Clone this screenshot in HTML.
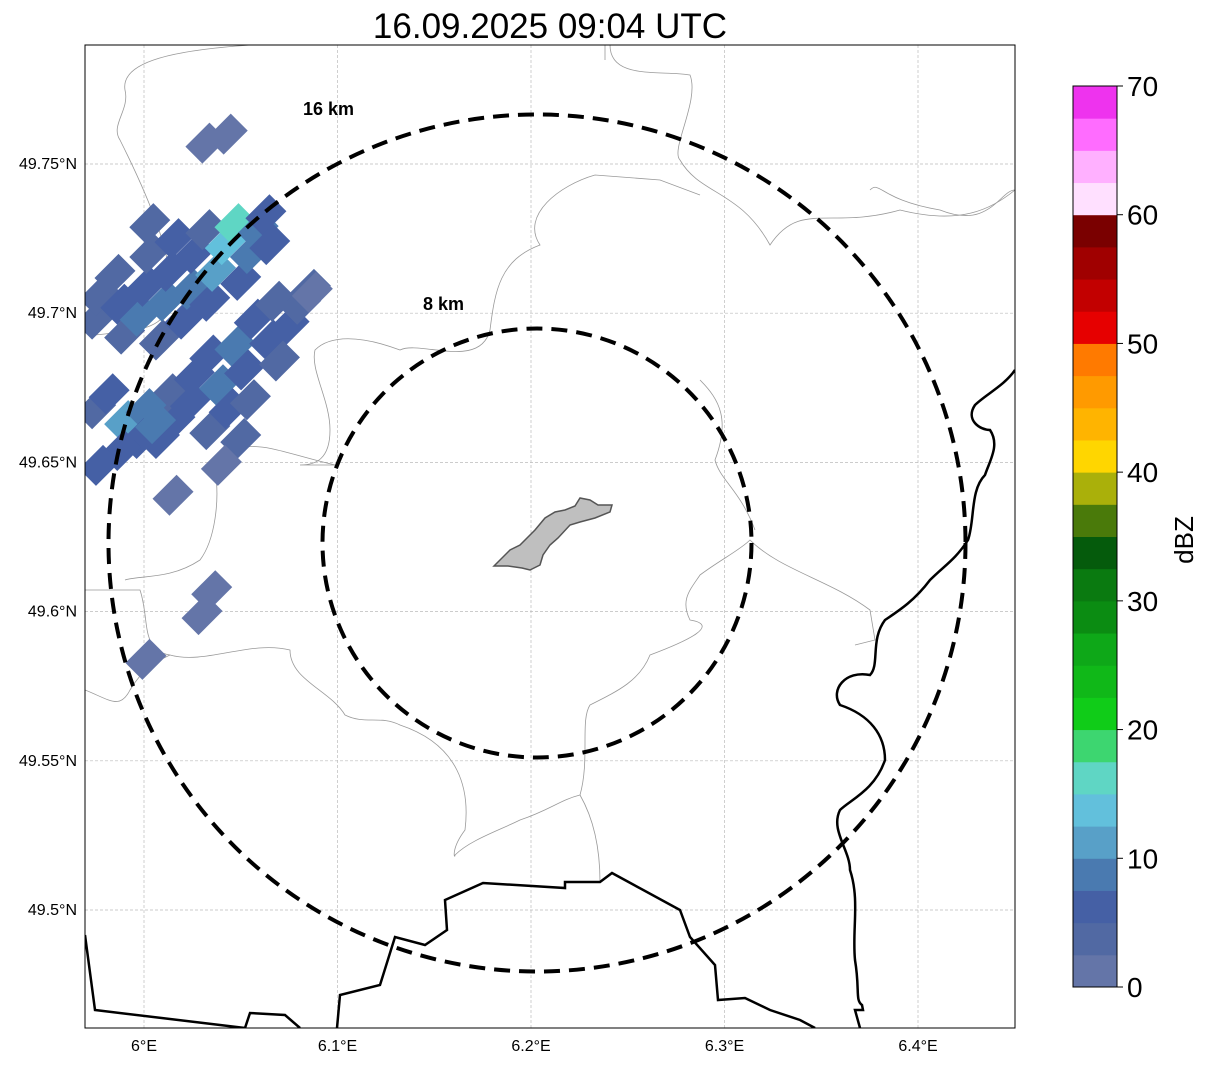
<!DOCTYPE html>
<html><head><meta charset="utf-8"><style>
body{margin:0;background:#fff;font-family:"Liberation Sans","DejaVu Sans",sans-serif}
svg text{font-family:"Liberation Sans","DejaVu Sans",sans-serif}
</style></head><body>
<svg id="chart" width="1207" height="1064" viewBox="0 0 1207 1064" xmlns="http://www.w3.org/2000/svg">
<text x="550" y="38" font-size="35" text-anchor="middle">16.09.2025 09:04 UTC</text>
<defs><clipPath id="mapclip"><rect x="85" y="45" width="930" height="983"/></clipPath></defs>
<g id="grid"></g>
<g clip-path="url(#mapclip)">
<g fill="none" stroke="#999" stroke-width="0.8">
<path d="M250,45 C180,50 120,60 125,90 C130,110 110,125 120,140 C150,200 175,260 170,300 C165,330 140,330 95,335"/>
<path d="M605,45 L605,60 M610,45 C610,80 660,70 690,75 C700,100 670,150 680,160 C700,195 740,190 770,245 C800,200 830,230 900,210 C960,225 990,210 1015,190"/>
<path d="M1015,190 C1000,190 990,230 940,210 C880,200 880,180 870,190"/>
<path d="M595,175 L660,180 L700,195 M595,175 C560,185 520,215 540,245 C500,260 495,290 490,330 C480,370 420,340 400,350 C360,335 330,335 315,350 C310,370 330,400 330,430 C330,460 315,465 300,465 L335,465"/>
<path d="M335,465 C270,450 240,430 215,470 C220,500 215,540 200,560 C170,580 140,575 125,580"/>
<path d="M85,590 L140,590 C150,620 140,650 170,655 C205,665 250,640 290,650 C290,680 330,690 345,715 C365,725 380,715 400,725 C460,745 470,790 465,830 C450,850 455,860 455,855 C470,840 500,830 520,820 C550,810 560,800 580,795 C590,760 580,720 590,705 C620,690 640,680 650,655 C690,640 720,625 690,620 C680,600 690,590 700,575 C720,560 740,550 750,540 C780,570 830,580 870,610 L875,640 L855,645"/>
<path d="M580,795 C600,830 600,870 600,882"/>
<path d="M85,690 C110,700 120,710 130,690 C145,665 160,660 170,655"/>
<path d="M700,380 C720,400 730,420 715,460 C720,480 740,490 755,530"/>
</g>
<g id="cells"></g>
<g fill="none" stroke="#000" stroke-width="2.5">
<path d="M85,935 L95,1010 L245,1028 M245,1028 L250,1013 L285,1015 L300,1028 M337,1028 L340,995 L380,985 L395,937 L425,945 L447,930 L445,900 L483,883 L565,888 L565,882 L600,882 L612,873 L680,910 L690,937 L715,965 L718,1000 L745,998 L770,1010 L800,1020 L815,1028"/>
<path d="M1015,370 C1005,385 985,395 975,405 C965,420 980,430 990,430 C1000,445 990,460 985,475 C970,490 975,520 968,540 C955,560 945,565 930,580 C915,600 900,610 885,620 C870,640 880,665 870,675 C845,670 830,690 840,705 C870,715 885,735 885,760 C875,790 850,800 840,810 C830,830 850,850 850,870 C860,900 852,930 855,960 C860,990 855,1000 862,1005 L863,1010 L855,1010 L860,1028"/>
</g>
<path d="M494,566 L510,550 L520,545 L535,530 L545,518 L555,512 L565,510 L575,506 L580,498 L590,500 L598,505 L612,505 L610,512 L595,518 L580,522 L570,525 L558,538 L550,545 L543,555 L540,565 L530,570 L522,568 L508,566 Z" fill="#bfbfbf" stroke="#555" stroke-width="1.5"/>
<ellipse cx="537" cy="543" rx="428.5" ry="428.5" fill="none" stroke="#000" stroke-width="4" stroke-dasharray="16,9"/>
<ellipse cx="537" cy="543" rx="214.5" ry="214.5" fill="none" stroke="#000" stroke-width="4" stroke-dasharray="16,9"/>
</g>
<text x="303" y="115" font-size="18" font-weight="bold">16 km</text>
<text x="423" y="310" font-size="18" font-weight="bold">8 km</text>
<rect x="85" y="45" width="930" height="983" fill="none" stroke="#000" stroke-width="1"/>
<g id="axes"></g>
<g id="cbar"></g>
<text transform="translate(1193,540) rotate(-90)" font-size="26" text-anchor="middle">dBZ</text>
</svg>
<script>
const lonTicks=[6.0,6.1,6.2,6.3,6.4];
const lonLabels=["6°E","6.1°E","6.2°E","6.3°E","6.4°E"];
const latTicks=[49.75,49.7,49.65,49.6,49.55,49.5];
const latLabels=["49.75°N","49.7°N","49.65°N","49.6°N","49.55°N","49.5°N"];
const cbTicks=[0,10,20,30,40,50,60,70];
const cbColors=["#6475a8","#5169a3","#4560a5","#4a7ab0","#58a0c8","#62c0dc","#5fd6c4","#3dd670","#10cc18","#10b818","#0ea818","#0b8c12","#0a7a10","#055b0c","#4a7a0a","#aab00a","#ffd600","#ffb400","#ff9a00","#ff7a00","#e60000","#c20000","#a00000","#7a0000","#ffe0ff","#ffb0ff","#ff6cff","#ee33ee"];
const cellLon=[5.975,5.977,5.985,5.988,5.990,5.998,6.001,6.003,6.008,6.011,6.013,6.016,6.021,6.024,6.026,6.032,6.034,6.037,6.042,6.047,6.050,6.055,6.059,6.063,6.065,6.003,
6.008,6.016,6.013,6.024,6.026,6.034,6.034,6.039,6.044,6.047,6.052,6.055,6.057,6.065,6.068,6.075,6.081,6.086,6.070,6.050,
5.975,5.982,5.990,6.001,5.998,5.988,5.977,6.006,
6.032,6.043,6.040,6.015,6.035,6.030,6.001,6.087];
const cellLat=[49.698,49.706,49.713,49.703,49.693,49.699,49.709,49.720,49.691,49.704,49.714,49.725,49.698,49.708,49.720,49.728,49.704,49.714,49.723,49.730,49.711,49.720,49.728,49.733,49.723,49.730,
49.658,49.664,49.673,49.670,49.679,49.661,49.686,49.676,49.668,49.689,49.681,49.671,49.698,49.691,49.704,49.696,49.703,49.708,49.684,49.658,
49.668,49.673,49.664,49.668,49.658,49.654,49.649,49.663,
49.757,49.760,49.649,49.639,49.607,49.599,49.584,49.707];
const cellDbz=[3,4,3,6,4,8,7,4,3,9,6,5,5,8,7,4,6,10,13,17,5,9,8,6,7,3,
5,6,4,7,5,4,6,8,5,9,7,4,5,6,4,5,4,3,4,3,
4,6,12,8,6,5,5,9,
2,2,2,2,2,2,2,2];
const NS="http://www.w3.org/2000/svg";
const xL=lon=>144+(lon-6)*1935;
const yL=lat=>164+(49.75-lat)*2984;
const cbY=v=>987-(v/70)*901;
function mk(tag,attrs,parent){const e=document.createElementNS(NS,tag);for(const k in attrs)e.setAttribute(k,attrs[k]);parent.appendChild(e);return e;}
const grid=document.getElementById('grid'),axes=document.getElementById('axes'),cells=document.getElementById('cells'),cbar=document.getElementById('cbar');
lonTicks.forEach((t,i)=>{const x=xL(t);
 const g=mk('line',{x1:x,x2:x,y1:45,y2:1028,stroke:'#bbb','stroke-width':0.7,'stroke-dasharray':'3,2'},grid);
 
 const tx=mk('text',{x:x,y:1051,'font-size':16,'text-anchor':'middle'},axes);tx.textContent=lonLabels[i];
 });
latTicks.forEach((t,i)=>{const y=yL(t);
 const g=mk('line',{x1:85,x2:1015,y1:y,y2:y,stroke:'#bbb','stroke-width':0.7,'stroke-dasharray':'3,2'},grid);
 
 const tx=mk('text',{x:77,y:y+5,'font-size':16,'text-anchor':'end'},axes);tx.textContent=latLabels[i];
 });
function col(v){return cbColors[Math.max(0,Math.min(cbColors.length-1,Math.floor(v/2.5)))];}
cellLon.forEach((lon,i)=>{const x=xL(lon),y=yL(cellLat[i]);
 const r=mk('rect',{x:x-17,y:y-12,width:34,height:24,fill:col(cellDbz[i]),transform:`rotate(-45 ${x} ${y})`},cells);
 });
cbColors.forEach((c,i)=>{const v0=i*2.5,v1=v0+2.5;
 const r=mk('rect',{x:1073,y:cbY(v1),width:44,height:cbY(v0)-cbY(v1)+0.5,fill:c},cbar);
 });
mk('rect',{x:1073,y:86,width:44,height:901,fill:'none',stroke:'#000','stroke-width':1},cbar);
cbTicks.forEach(t=>{const y=cbY(t);
 mk('line',{x1:1117,x2:1123,y1:y,y2:y,stroke:'#000'},cbar);
 const tx=mk('text',{x:1127,y:y+10,'font-size':28},cbar);tx.textContent=t;
 });
</script>
</body></html>
